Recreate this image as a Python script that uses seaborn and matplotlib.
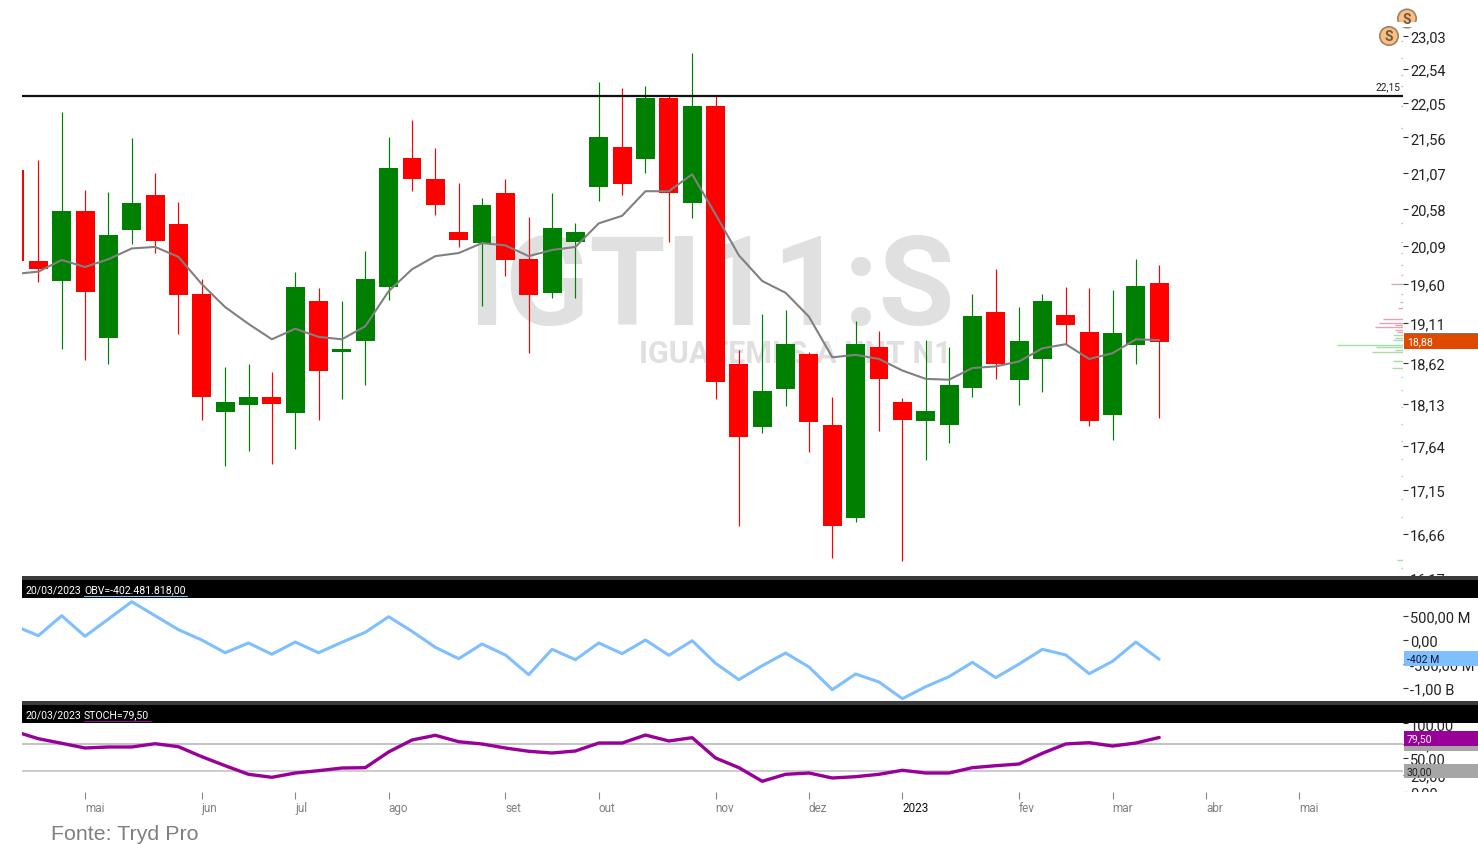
import numpy as np
import seaborn as sns
import matplotlib.pyplot as plt
from matplotlib.patches import Circle, Rectangle
from matplotlib.ticker import NullFormatter, NullLocator

W, H = 1478, 845

# weekly candles, 11/04/2022 to 20/03/2023
opens = [21.11, 19.90, 19.64, 20.56, 18.93, 20.30, 20.77, 20.38, 19.47, 18.04,
         18.12, 18.22, 18.02, 19.39, 18.75, 18.89, 19.56, 21.28, 20.99, 20.27,
         20.13, 20.80, 19.92, 19.49, 20.15, 20.88, 21.43, 21.26, 22.12, 20.66,
         22.01, 18.61, 17.86, 18.31, 18.73, 17.89, 16.84, 18.81, 18.16, 17.93,
         17.89, 18.32, 19.25, 18.42, 18.67, 19.21, 19.00, 18.00, 18.84, 19.62]
closes = [19.90, 19.79, 20.55, 19.50, 20.24, 20.66, 20.16, 19.46, 18.21, 18.15,
          18.22, 18.13, 19.57, 18.52, 18.79, 19.67, 21.14, 20.98, 20.63, 20.17,
          20.64, 19.91, 19.46, 20.33, 20.28, 21.56, 20.92, 22.12, 20.80, 22.01,
          18.39, 17.75, 18.29, 18.85, 17.92, 16.75, 18.85, 18.43, 17.94, 18.05,
          18.36, 19.20, 18.61, 18.89, 19.39, 19.09, 17.93, 18.99, 19.58, 18.88]
highs = [21.40, 21.25, 21.92, 20.83, 20.81, 21.55, 21.07, 20.67, 19.66, 18.57,
         18.61, 18.51, 19.75, 19.55, 19.39, 20.03, 21.56, 21.80, 21.41, 20.93,
         20.73, 20.99, 20.48, 20.80, 20.39, 22.35, 22.27, 22.29, 22.16, 22.78,
         22.16, 18.78, 19.22, 19.27, 18.75, 18.22, 19.14, 19.01, 18.20, 18.90,
         18.82, 19.48, 19.79, 19.31, 19.48, 19.57, 19.55, 19.52, 19.92, 19.85]
lows = [19.60, 19.63, 18.79, 18.66, 18.61, 20.12, 20.00, 18.98, 17.94, 17.41,
        17.59, 17.44, 17.61, 17.94, 18.19, 18.36, 19.40, 20.82, 20.50, 20.08,
        19.32, 19.70, 18.74, 19.42, 19.42, 20.69, 20.77, 21.07, 20.14, 20.46,
        18.19, 16.75, 17.79, 18.11, 17.58, 16.41, 16.79, 17.82, 16.37, 17.48,
        17.68, 18.21, 18.43, 18.12, 18.27, 18.85, 17.87, 17.71, 18.61, 17.97]
media = [19.73, 19.76, 19.91, 19.82, 19.92, 20.06, 20.08, 19.95, 19.60, 19.31,
         19.10, 18.91, 19.04, 18.94, 18.91, 19.07, 19.51, 19.79, 19.96, 20.00,
         20.13, 20.10, 19.96, 20.04, 20.08, 20.39, 20.49, 20.82, 20.82, 21.05,
         20.51, 19.97, 19.64, 19.49, 19.19, 18.69, 18.72, 18.67, 18.53, 18.43,
         18.42, 18.56, 18.58, 18.64, 18.80, 18.85, 18.67, 18.74, 18.91, 18.90]
obv = [292, 90, 506, 77, 437, 798, 506, 215, 0, -265,
       -62, -298, -42, -265, -48, 160, 485, 181, -152, -390,
       -83, -312, -723, -194, -410, -62, -285, 0, -319, -15,
       -485, -827, -535, -271, -562, -1035, -708, -875, -1223, -973,
       -764, -465, -785, -500, -194, -312, -702, -444, -42, -402]
stoch = [88.3, 77.7, 71.0, 64.1, 65.6, 65.6, 70.4, 66.0, 51.4, 38.2,
         25.6, 21.2, 27.5, 30.9, 34.8, 35.3, 58.3, 75.8, 82.7, 73.3,
         70.0, 64.1, 59.3, 56.8, 59.7, 71.4, 71.4, 83.1, 74.4, 79.2,
         49.5, 35.3, 15.4, 25.6, 27.5, 20.2, 22.1, 25.6, 31.5, 27.5,
         27.5, 35.3, 38.2, 40.7, 56.4, 70.0, 71.9, 67.0, 71.4, 79.5]

# the last tick sits a touch higher than 16,17 so only its top shows above the band
price_ticks = [23.03, 22.54, 22.05, 21.56, 21.07, 20.58, 20.09, 19.60, 19.11,
               18.62, 18.13, 17.64, 17.15, 16.66, 16.19]
price_labels = ['23,03', '22,54', '22,05', '21,56', '21,07', '20,58', '20,09', '19,60', '19,11',
                '18,62', '18,13', '17,64', '17,15', '16,66', '16,17']
obv_ticks = [500, 0, -500, -1000]
obv_labels = ['500,00 M', '0,00', '-500,00 M', '-1,00 B']
stoch_ticks = [100, 70, 50, 25, 0]
month_idx = [3, 8, 12, 16, 21, 25, 30, 34, 38, 43, 47, 51, 55]
month_labels = ['mai', 'jun', 'jul', 'ago', 'set', 'out', 'nov', 'dez', '2023',
                'fev', 'mar', 'abr', 'mai']

# volume at price on the right edge of the price panel
vap_up = [22.95, 22.7, 22.45, 22.3, 22.0, 21.7, 20.4, 20.15, 20.0, 19.85, 19.72, 19.60,
          19.48, 19.38, 19.30, 19.16, 19.11, 19.09, 19.06, 19.03, 19.00]
vap_up_len = [2, 2, 2, 2, 2, 2, 2, 2, 2, 2, 2, 12, 2, 3, 5, 20, 24, 8, 28, 8, 6]
vap_down = [18.96, 18.93, 18.90, 18.84, 18.82, 18.78, 18.76, 18.64, 18.56, 18.45, 18.3,
            18.1, 17.9, 17.7, 17.5, 17.3, 17.05, 16.85, 16.38, 16.3]
vap_down_len = [10, 8, 10, 66, 27, 8, 31, 10, 11, 2, 2, 2, 2, 2, 2, 2, 2, 2, 6, 2]

RED = '#FF0000'
GREEN = '#008000'
BLUE = '#7FBFFF'
PURPLE = '#990099'
XMIN, XMAX = 0.3, 59.44

sns.set_theme(style='white')
plt.rcParams['font.family'] = ['Roboto', 'DejaVu Sans']

fig = plt.figure(figsize=(W / 100, H / 100), dpi=100, facecolor='white')


def px_axes(left, top, right, bottom, zorder=1):
    a = fig.add_axes([left / W, 1 - bottom / H, (right - left) / W, (bottom - top) / H], zorder=zorder)
    a.set_xlim(XMIN, XMAX)
    for s in a.spines.values():
        s.set_visible(False)
    return a


def right_ticks(a):
    a.yaxis.tick_right()
    a.set_xticks([])
    a.tick_params(axis='y', which='major', right=True, length=3.6, width=0.8, color='#333333',
                  labelsize=10.5, labelcolor='#222222', pad=1.5)


ax = px_axes(22, 0, 1403, 585)
ax_obv = px_axes(22, 599, 1403, 702)
ax_sto = px_axes(22, 724, 1403, 793)
over = fig.add_axes([0, 0, 1, 1], zorder=5)
over.set_xlim(0, W)
over.set_ylim(H, 0)
over.axis('off')
ax_time = px_axes(22, 793, 1403, 801, zorder=6)
ax_time.patch.set_alpha(0)

# price panel
idx = np.arange(len(closes))
o = np.array(opens)
c = np.array(closes)
colors = [GREEN if c[i] > o[i] else RED for i in idx]
ax.set_yscale('log')
ax.vlines(idx, lows, highs, colors=colors, lw=0.85, zorder=2)
ax.bar(idx, np.abs(c - o), bottom=np.minimum(o, c), width=0.81, color=colors, linewidth=0, zorder=3)
sns.lineplot(x=idx, y=media, ax=ax, color='#808080', lw=1.5, zorder=4)
ax.hlines(22.15, XMIN, XMAX, color='#111111', lw=1.6, zorder=5)
ax.hlines(vap_up, XMAX - np.array(vap_up_len) / 23.35, XMAX, color='#DDA5B5', lw=1, zorder=2)
ax.hlines(vap_down, XMAX - np.array(vap_down_len) / 23.35, XMAX, color='#A8DCA8', lw=1, zorder=2)
ax.set_xlim(XMIN, XMAX)
ax.set_yticks(price_ticks, labels=price_labels)
ax.set_ylim(16.13, 23.59)
ax.yaxis.set_minor_locator(NullLocator())
ax.yaxis.set_minor_formatter(NullFormatter())
right_ticks(ax)

ax.text(712, 291, 'IGTI11:S', transform=over.transData, ha='center', va='center', fontsize=89,
        fontweight='bold', color='#E0E0E0', family=['Liberation Sans Narrow', 'Roboto'], zorder=1)
ax.text(795, 354, 'IGUATEMI S.A UNT N1', transform=over.transData, ha='center', va='center', fontsize=22,
        fontweight='bold', color='#E0E0E0', family=['Liberation Sans Narrow', 'Roboto'], zorder=1)

# obv panel
sns.lineplot(x=idx, y=obv, ax=ax_obv, color=BLUE, lw=2.2)
ax_obv.set_xlim(XMIN, XMAX)
ax_obv.set_ylim(-1271, 875)
ax_obv.set_yticks(obv_ticks, labels=obv_labels)
right_ticks(ax_obv)

# stochastic panel
ax_sto.axhline(70, color='#BEBEBE', lw=1.3, zorder=1)
ax_sto.axhline(30, color='#BEBEBE', lw=1.1, zorder=1)
sns.lineplot(x=idx, y=stoch, ax=ax_sto, color=PURPLE, lw=2.4, zorder=3)
ax_sto.set_xlim(XMIN, XMAX)
ax_sto.set_ylim(-0.3, 100.7)
ax_sto.set_yticks(stoch_ticks, labels=[f'{s},00' for s in stoch_ticks])
right_ticks(ax_sto)

# time axis
ax_time.set_ylim(0, 1)
ax_time.set_yticks([])
ax_time.set_xticks(month_idx, labels=month_labels)
ax_time.tick_params(axis='x', direction='in', length=5, width=0.8, color='#888888', top=True, bottom=False,
                    labeltop=False, labelbottom=True, labelsize=8.5, labelcolor='#808080', pad=0.5)
for lab, name in zip(ax_time.get_xticklabels(), month_labels):
    lab.set_ha('left')
    if name == '2023':
        lab.set_color('#111111')

# bands, badges and other decoration, in pixels
for top, bot in [(577, 599), (702, 724)]:
    over.add_patch(Rectangle((22, bot - 18), W - 22, 18, color='black', lw=0))
    over.add_patch(Rectangle((22, top), W - 22, 4, color='#3A3A3A', lw=0))
over.add_patch(Rectangle((0, 793), W, 52, color='white', lw=0))

band_font = dict(color='white', fontsize=7.6, va='center')
over.text(25, 590.5, '20/03/2023', **band_font)
over.text(84, 590.5, 'OBV=-402.481.818,00', **band_font)
over.plot([84, 187], [597, 597], color=BLUE, lw=0.8)
over.text(25, 715.5, '20/03/2023', **band_font)
over.text(84, 715.5, 'STOCH=79,50', **band_font)
over.plot([84, 151], [721.5, 721.5], color=PURPLE, lw=0.8)

over.add_patch(Rectangle((1404, 335), 74, 15, color='#E04A00', lw=0))
over.add_patch(Rectangle((1404, 333.5), 74, 1.5, color='#777777', lw=0))
over.text(1407, 342.5, '18,88', color='white', fontsize=7.6, va='center')
over.add_patch(Rectangle((1404, 652), 74, 15, color=BLUE, lw=0))
over.text(1407, 660, '-402 M', color='#111133', fontsize=7.6, va='center')
over.add_patch(Rectangle((1404, 745), 74, 7, color='#A6A6A6', lw=0))
over.add_patch(Rectangle((1404, 732), 74, 15, color=PURPLE, lw=0))
over.text(1407, 739.5, '79,50', color='white', fontsize=7.6, va='center')
over.add_patch(Rectangle((1404, 765), 74, 14, color='#A6A6A6', lw=0))
over.text(1407, 772.5, '30,00', color='#222222', fontsize=7.6, va='center')
over.text(1376, 87.5, '22,15', color='#222222', fontsize=7.4, va='center')

for cx, cy in [(1407, 19.5), (1389, 37)]:
    over.add_patch(Circle((cx, cy), 9.2, facecolor='#FDBE7F', edgecolor='#9A8468', lw=1.2))
    over.text(cx, cy, 'S', color='#6B5A45', fontsize=10, fontweight='bold', ha='center', va='center')
    if cy < 30:
        over.add_patch(Rectangle((cx - 11, 23), 22, 4.5, color='white', lw=0))

over.text(51, 835, 'Fonte: Tryd Pro', color='#7F7F7F', fontsize=15.4, va='center', family='Liberation Sans')

fig.savefig('out.png', dpi=100)
